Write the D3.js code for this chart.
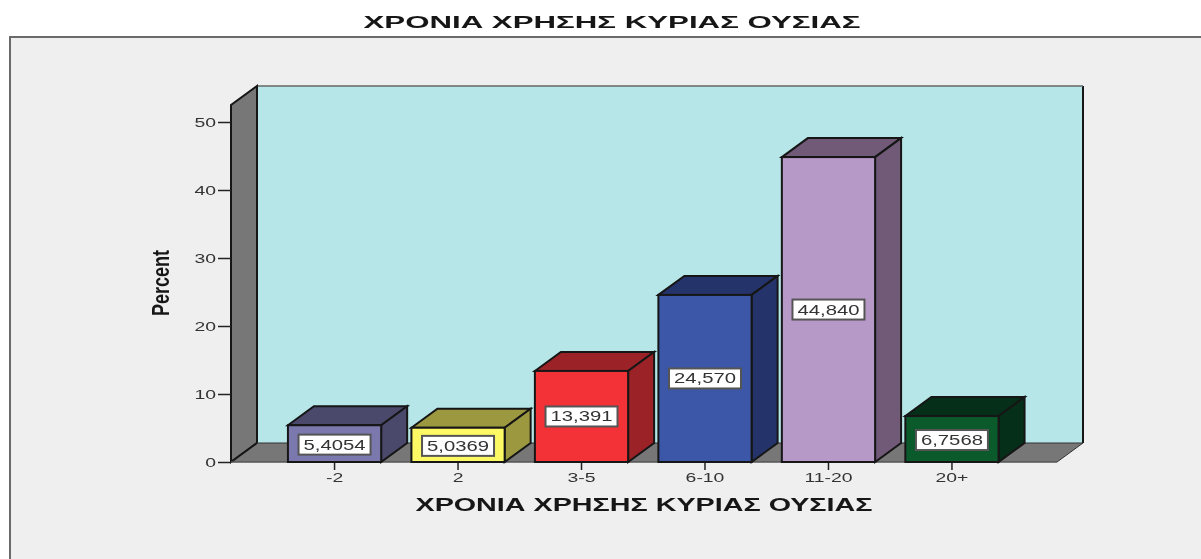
<!DOCTYPE html>
<html><head><meta charset="utf-8">
<script src="https://cdn.jsdelivr.net/npm/d3@7/dist/d3.min.js"></script>
<style>html,body{margin:0;padding:0;background:#fff;overflow:hidden}svg{display:block;filter:blur(0.55px)}text{font-family:"Liberation Sans",Arial,sans-serif}</style>
</head><body><svg id="c" width="1201" height="559"></svg>
<script>
const categories=["-2","2","3-5","6-10","11-20","20+"];
const values=[5.4054,5.0369,13.391,24.570,44.840,6.7568];
const valueLabels=["5,4054","5,0369","13,391","24,570","44,840","6,7568"];
const barColors=["#7b78ae","#fdf964","#f23237","#3c57a8","#b799c7","#0b5a2c"];
const topColors=["#4a486b","#9b983f","#9b2226","#24346a","#705a78","#062f19"];
const yTicks=[0,10,20,30,40,50];
const titleText="ΧΡΟΝΙΑ ΧΡΗΣΗΣ ΚΥΡΙΑΣ ΟΥΣΙΑΣ";

const svg=d3.select("#c");
const DX=26,DY=-19,INK="#161616";
const y=d3.scaleLinear().domain([0,50]).range([462,122]);
const x=d3.scaleBand().domain(categories).range([272.5,1014]).paddingInner(0.245).paddingOuter(0.125);
const wallL=231,wallR=1057,wallT=105;
const line=d3.line();
const poly=(pts,fill,sw=2)=>svg.append("path").attr("d",line(pts)+"Z").attr("fill",fill).attr("stroke",INK).attr("stroke-width",sw).attr("stroke-linejoin","miter");

svg.append("rect").attr("x",10).attr("y",37).attr("width",1195).attr("height",530).attr("fill","#efefef").attr("stroke","#6a6a6a").attr("stroke-width",2);

svg.append("text").attr("x",612).attr("y",28).attr("text-anchor","middle").attr("font-size",17).attr("font-weight","bold").attr("fill","#161616")
 .attr("textLength",497).attr("lengthAdjust","spacingAndGlyphs").text(titleText);

// back wall, left wall, floor
svg.append("path").attr("d",line([[wallL+DX,y(0)+DY],[wallR+DX,y(0)+DY],[wallR+DX,wallT+DY],[wallL+DX,wallT+DY]])+"Z").attr("fill","#b6e6e8");
svg.append("path").attr("d",line([[wallR+DX,y(0)+DY],[wallR+DX,wallT+DY]])).attr("stroke",INK).attr("stroke-width",2);
svg.append("path").attr("d",line([[wallL+DX,wallT+DY],[wallR+DX,wallT+DY]])).attr("stroke","#666").attr("stroke-width",1.5);
poly([[wallL,y(0)],[wallL+DX,y(0)+DY],[wallL+DX,wallT+DY],[wallL,wallT]],"#777777",2);
svg.append("path").attr("d",line([[wallL,y(0)],[wallR,y(0)],[wallR+DX,y(0)+DY],[wallL+DX,y(0)+DY]])+"Z").attr("fill","#777777");
svg.append("path").attr("d",line([[wallL,y(0)],[wallL+DX,y(0)+DY]])).attr("fill","none").attr("stroke",INK).attr("stroke-width",2);
svg.append("path").attr("d",line([[wallL+DX,y(0)+DY],[wallR+DX,y(0)+DY],[wallR,y(0)]])).attr("fill","none").attr("stroke","#333").attr("stroke-width",1);
svg.append("line").attr("x1",wallL).attr("x2",wallR).attr("y1",y(0)).attr("y2",y(0)).attr("stroke","#555").attr("stroke-width",1.5);

// axes
const gy=svg.append("g").attr("transform",`translate(${wallL},0)`).call(d3.axisLeft(y).tickValues(yTicks).tickSize(13).tickPadding(2));
const gx=svg.append("g").attr("transform",`translate(0,${y(0)})`).call(d3.axisBottom(x).tickSize(8).tickPadding(3));
[gy,gx].forEach(g=>{g.select(".domain").remove();g.selectAll("line").attr("stroke","#222").attr("stroke-width",1.5);
 g.selectAll("text").attr("font-size",12.5).attr("fill","#333").style("font-family",'"Liberation Sans",Arial,sans-serif')
  .each(function(){d3.select(this).attr("textLength",this.getComputedTextLength()*1.55).attr("lengthAdjust","spacingAndGlyphs");});});

// bars
categories.forEach((c,i)=>{
 const x0=x(c),w=x.bandwidth(),yt=y(values[i]),yb=y(0);
 poly([[x0,yt],[x0+DX,yt+DY],[x0+w+DX,yt+DY],[x0+w,yt]],topColors[i]);
 poly([[x0+w,yt],[x0+w+DX,yt+DY],[x0+w+DX,yb+DY],[x0+w,yb]],topColors[i]);
 svg.append("rect").attr("x",x0).attr("y",yt).attr("width",w).attr("height",yb-yt).attr("fill",barColors[i]).attr("stroke",INK).attr("stroke-width",2);
});
// value labels
categories.forEach((c,i)=>{
 const cx=x(c)+x.bandwidth()/2,cy=y(values[i]/2)+ (values[i]<10?1:0);
 svg.append("rect").attr("x",cx-36).attr("y",cy-10).attr("width",72).attr("height",20).attr("fill","#fff").attr("stroke","#555").attr("stroke-width",2);
 svg.append("text").attr("x",cx).attr("y",cy+5).attr("text-anchor","middle").attr("font-size",14).attr("fill","#333")
  .attr("textLength",62).attr("lengthAdjust","spacingAndGlyphs").text(valueLabels[i]);
});

svg.append("text").attr("x",644).attr("y",511).attr("text-anchor","middle").attr("font-size",17.5).attr("font-weight","bold").attr("fill","#161616")
 .attr("textLength",457).attr("lengthAdjust","spacingAndGlyphs").text(titleText);
svg.append("text").attr("transform","translate(169,283) rotate(-90)").attr("text-anchor","middle").attr("font-size",23).attr("font-weight","bold").attr("fill","#161616")
 .attr("textLength",66).attr("lengthAdjust","spacingAndGlyphs").text("Percent");
</script></body></html>
